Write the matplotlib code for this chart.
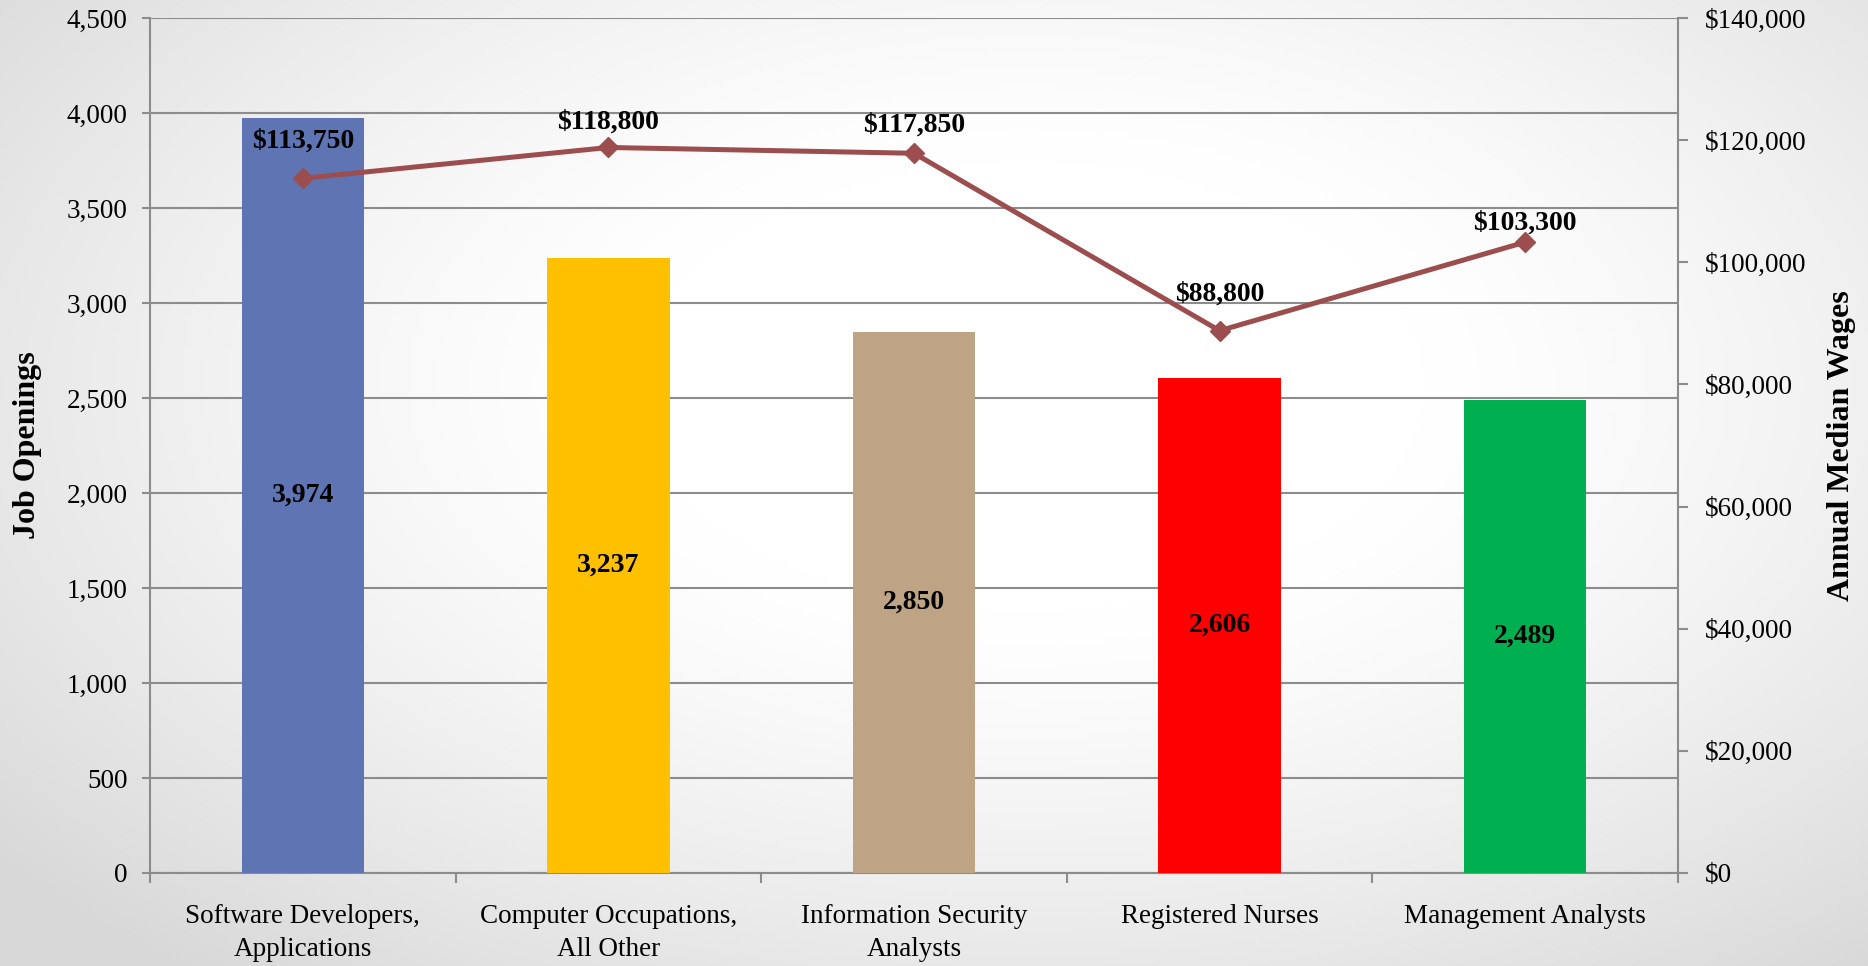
import numpy as np
import matplotlib
matplotlib.use("Agg")
import matplotlib.pyplot as plt
from matplotlib.ticker import FuncFormatter, MultipleLocator

categories = ["Software Developers,\nApplications", "Computer Occupations,\nAll Other",
              "Information Security\nAnalysts", "Registered Nurses", "Management Analysts"]
job_openings = [3974, 3237, 2850, 2606, 2489]
median_wages = [113750, 118800, 117850, 88800, 103300]
bar_colors = ["#5F75B3", "#FFC000", "#BFA385", "#FF0000", "#00B050"]
line_color = "#9C4D4D"
# vertical offsets (points) of the wage labels above their markers
wage_label_offsets = [26.5, 18, 20.5, 26.5, 14]

plt.rcParams['font.family'] = ['Liberation Serif', 'DejaVu Serif']

W, H = 1868, 966
fig = plt.figure(figsize=(W / 100, H / 100), dpi=100)

# background radial gradient
bg = fig.add_axes([0, 0, 1, 1], zorder=-10)
yy, xx = np.mgrid[0:1:300j, 0:1:600j]
r = np.sqrt(((xx - 0.55) / 0.5) ** 2 + ((yy - 0.6) / 0.55) ** 2) / np.sqrt(2)
val = 1.0 - 0.15 * np.clip((r - 0.3) / 0.7, 0, 1) ** 1.3
bg.imshow(np.dstack([val, val, val]), aspect='auto', extent=[0, 1, 0, 1], origin='lower')
bg.axis('off')

left, right, top, bottom = 150, 1678, 18, 873
ax = fig.add_axes([left / W, 1 - bottom / H, (right - left) / W, (bottom - top) / H])
ax.patch.set_alpha(0)
x = np.arange(len(categories))
bars = ax.bar(x, job_openings, width=0.4, color=bar_colors, zorder=3)
ax.set_xlim(-0.5, len(categories) - 0.5)
ax.set_ylim(0, 4500)
ax.yaxis.set_major_locator(MultipleLocator(500))
ax.yaxis.set_major_formatter(FuncFormatter(lambda v, p: f"{int(v):,}"))
grid_c = '#8C8C8C'
ax.grid(axis='y', color=grid_c, linewidth=1.5, zorder=0)
for s in ['top', 'right']:
    ax.spines[s].set_visible(False)
for s in ['left', 'bottom']:
    ax.spines[s].set_color(grid_c)
    ax.spines[s].set_linewidth(1.5)
ax.tick_params(axis='y', colors=grid_c, labelcolor='black', labelsize=19.5, length=6, width=1.5, pad=10)
ax.set_xticks(x)
ax.set_xticklabels(categories, fontsize=19.5, linespacing=1.45)
ax.set_xticks(np.arange(len(categories) + 1) - 0.5, minor=True)
ax.tick_params(axis='x', which='major', length=0, pad=22)
ax.tick_params(axis='x', which='minor', length=7, width=1.5, color=grid_c)
ax.set_ylabel("Job Openings", fontsize=23, fontweight='bold', labelpad=18)

for xi, v in zip(x, job_openings):
    ax.text(xi, v / 2, f"{v:,}", ha='center', va='center', fontsize=20, fontweight='bold', zorder=5)

ax2 = ax.twinx()
ax2.set_ylim(0, 140000)
ax2.yaxis.set_major_locator(MultipleLocator(20000))
ax2.yaxis.set_major_formatter(FuncFormatter(lambda v, p: f"${int(v):,}"))
for s in ['top', 'left', 'bottom']:
    ax2.spines[s].set_visible(False)
ax2.spines['right'].set_color(grid_c)
ax2.spines['right'].set_linewidth(1.5)
ax2.tick_params(axis='y', colors=grid_c, labelcolor='black', labelsize=19.5, length=7, width=1.5, pad=12)
ax2.plot(x, median_wages, color=line_color, linewidth=3.6, marker='D', markersize=10, zorder=6)
for xi, v, off in zip(x, median_wages, wage_label_offsets):
    ax2.annotate(f"${v:,}", (xi, v), xytext=(0, off), textcoords='offset points',
                 ha='center', va='center', fontsize=20, fontweight='bold')
ax2.set_ylabel("Annual Median Wages", fontsize=23, fontweight='bold', labelpad=15)

fig.savefig("out.png", dpi=100)
